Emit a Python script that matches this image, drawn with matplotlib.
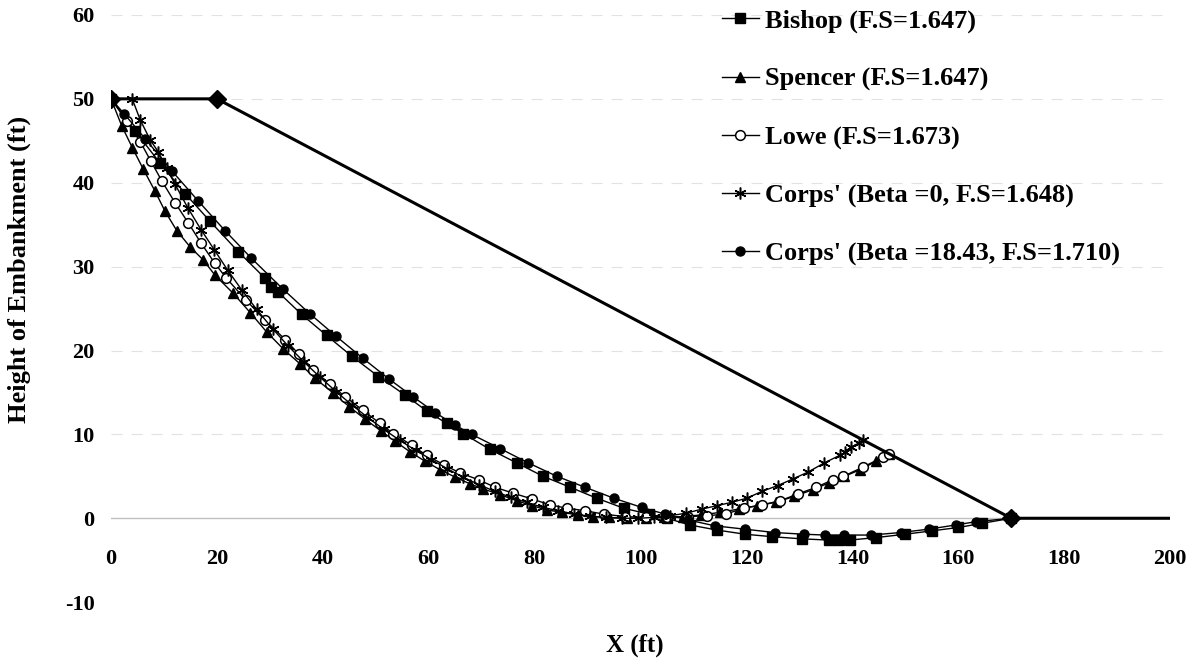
import matplotlib
matplotlib.use("Agg")
import matplotlib.pyplot as plt
import matplotlib.ticker as ticker

# embankment profile
embank_x = [0, 20, 170, 200]
embank_y = [50, 50, 0, 0]

# Bishop (F.S=1.647)
bishop_x = [0, 4.5, 9.3, 14.0, 18.7, 24.0, 29.1, 30.3, 31.5, 36.0, 40.7, 45.5, 50.5, 55.5, 59.6,
            63.4, 66.5, 71.6, 76.6, 81.6, 86.7, 91.7, 96.8, 101.5, 105.0, 109.3, 114.4, 119.7,
            124.9, 130.4, 135.5, 137.5, 139.5, 144.5, 150.0, 155.0, 160.0, 164.5, 170]
bishop_y = [50, 46.2, 42.3, 38.7, 35.4, 31.8, 28.6, 27.6, 27.0, 24.3, 21.8, 19.3, 16.9, 14.7, 12.8,
            11.3, 10.1, 8.2, 6.6, 5.0, 3.7, 2.4, 1.2, 0.5, 0.0, -0.8, -1.4, -1.9,
            -2.2, -2.45, -2.6, -2.6, -2.6, -2.3, -1.9, -1.5, -1.1, -0.6, 0]

# Spencer (F.S=1.647)
spencer_x = [0, 2.0, 4.0, 6.1, 8.3, 10.2, 12.4, 15.0, 17.4, 19.6, 23.1, 26.3, 29.4, 32.5, 35.7,
             38.5, 42.0, 45.0, 48.0, 51.0, 53.6, 56.5, 59.3, 62.1, 65.0, 67.8, 70.3, 73.5, 76.6,
             79.5, 82.3, 85.1, 88.2, 91.0, 94.0, 97.5, 101.0, 104.5, 108.0, 111.5, 115.0, 118.5,
             122.0, 125.5, 129.0, 132.5, 135.5, 138.5, 141.5, 144.5, 147.0]
spencer_y = [50, 46.8, 44.2, 41.6, 39.0, 36.6, 34.3, 32.3, 30.8, 29.0, 26.8, 24.5, 22.2, 20.2, 18.4,
             16.7, 14.9, 13.3, 11.8, 10.4, 9.2, 7.9, 6.8, 5.8, 4.9, 4.1, 3.5, 2.8, 2.1,
             1.5, 1.0, 0.7, 0.4, 0.2, 0.1, 0.0, 0.0, 0.1, 0.2, 0.4, 0.7, 1.1,
             1.5, 1.9, 2.6, 3.4, 4.2, 5.0, 5.8, 6.8, 7.67]

# Lowe (F.S=1.673)
lowe_x = [0, 3.0, 5.5, 7.5, 9.6, 12.1, 14.6, 17.0, 19.6, 21.8, 25.5, 29.1, 32.9, 35.4, 38.2,
          41.3, 44.2, 47.5, 50.8, 53.3, 56.8, 59.6, 62.8, 65.9, 69.4, 72.5, 75.9, 79.5, 82.9,
          86.1, 89.5, 93.0, 97.0, 101.0, 105.0, 109.0, 112.5, 116.1, 119.5, 123.0, 126.4, 129.7,
          133.2, 136.3, 138.3, 142.0, 145.8, 147.0]
lowe_y = [50, 47.3, 44.9, 42.6, 40.2, 37.6, 35.2, 32.8, 30.4, 28.6, 26.0, 23.6, 21.3, 19.6, 17.7,
          16.0, 14.5, 12.9, 11.3, 10.1, 8.7, 7.5, 6.4, 5.4, 4.6, 3.7, 3.0, 2.3, 1.6,
          1.2, 0.9, 0.5, 0.2, 0.1, 0.1, 0.2, 0.3, 0.5, 1.2, 1.6, 2.1, 2.9,
          3.7, 4.6, 5.0, 6.1, 7.3, 7.67]

# Corps' (Beta =0, F.S=1.648)
corps0_x = [4.0, 5.5, 7.4, 8.9, 10.5, 12.1, 14.5, 17.0, 19.5, 22.0, 24.7, 27.5, 30.5, 33.5, 36.5,
            39.5, 42.5, 45.5, 48.5, 51.5, 54.5, 57.5, 60.5, 63.5, 66.5, 69.5, 72.5, 75.5, 78.5,
            81.5, 84.5, 87.5, 90.5, 93.5, 96.5, 99.5, 102.5, 105.5, 108.6, 111.6, 114.4, 117.2,
            120.1, 122.9, 125.9, 128.8, 131.6, 134.7, 137.6, 138.7, 139.8, 141.3, 142.0]
corps0_y = [50, 47.5, 45.1, 43.7, 41.7, 39.8, 37.0, 34.4, 32.0, 29.6, 27.2, 24.9, 22.6, 20.5, 18.6,
            16.8, 15.1, 13.5, 12.0, 10.6, 9.3, 8.1, 7.0, 5.9, 4.9, 4.0, 3.2, 2.5, 1.9,
            1.3, 0.9, 0.5, 0.25, 0.1, 0.0, 0.0, 0.1, 0.3, 0.6, 1.1, 1.5, 1.9,
            2.4, 3.2, 3.9, 4.7, 5.5, 6.6, 7.5, 7.9, 8.5, 9.0, 9.33]

# Corps' (Beta =18.43, F.S=1.710)
corps18_x = [0, 2.5, 6.5, 11.5, 16.5, 21.5, 26.5, 32.5, 37.5, 42.5, 47.5, 52.5, 57.0, 61.2, 65.0,
             68.1, 73.5, 78.8, 84.2, 89.5, 94.9, 100.2, 104.6, 109.0, 114.0, 119.7, 125.3, 130.8,
             134.8, 138.5, 143.6, 149.1, 154.4, 159.5, 163.4, 170]
corps18_y = [50, 48.2, 45.2, 41.4, 37.8, 34.3, 31.0, 27.3, 24.4, 21.7, 19.1, 16.6, 14.5, 12.6, 11.1,
             10.0, 8.3, 6.6, 5.0, 3.7, 2.4, 1.3, 0.5, -0.2, -0.9, -1.3, -1.7, -1.9,
             -2.0, -2.0, -2.0, -1.7, -1.3, -0.8, -0.4, 0]

x_ticks = [0, 20, 40, 60, 80, 100, 120, 140, 160, 180, 200]
y_ticks = [-10, 0, 10, 20, 30, 40, 50, 60]

plt.rcParams['font.family'] = ['Liberation Serif', 'DejaVu Serif']
plt.rcParams['font.weight'] = 'bold'
plt.rcParams['axes.unicode_minus'] = False

fig = plt.figure(figsize=(11.89, 6.65), dpi=100)
ax = fig.add_axes([0.0934, 0.0945, 0.8907, 0.883])

# faded excel gridlines
for yv in y_ticks:
    if yv in (-10, 0):
        continue
    ax.axhline(yv, color='#e2e2e2', lw=0.8, ls=(0, (10, 8)), zorder=0)
ax.axhline(0, color='#c0c0c0', lw=1.0, zorder=0)

ax.plot(embank_x, embank_y, color='black', lw=2.2, marker='D', markersize=9,
        markevery=[0, 1, 2], zorder=6)

ln = dict(color='black', lw=1.0)
ax.plot(bishop_x, bishop_y, marker='s', markersize=6.5, mfc='black', mec='black',
        label='Bishop (F.S=1.647)', **ln)
ax.plot(spencer_x, spencer_y, marker='^', markersize=6.5, mfc='black', mec='black',
        label='Spencer (F.S=1.647)', **ln)
ax.plot(lowe_x, lowe_y, marker='o', markersize=7, mfc='white', mec='black', mew=1.1,
        label='Lowe (F.S=1.673)', **ln)
ax.plot(corps0_x, corps0_y, marker=(6, 2, 0), markersize=8.5, mec='black', mew=1.1,
        label="Corps' (Beta =0, F.S=1.648)", **ln)
ax.plot(corps18_x, corps18_y, marker='o', markersize=6.5, mfc='black', mec='black',
        label="Corps' (Beta =18.43, F.S=1.710)", **ln)

ax.set_xlim(0, 200)
ax.set_ylim(-10, 60)
ax.xaxis.set_major_locator(ticker.FixedLocator(x_ticks))
ax.yaxis.set_major_locator(ticker.FixedLocator(y_ticks))
for s in ['top', 'right', 'left', 'bottom']:
    ax.spines[s].set_visible(False)
ax.tick_params(axis='both', length=0, labelsize=16)
ax.tick_params(axis='y', pad=12)
ax.tick_params(axis='x', pad=22)
ax.xaxis.set_ticks_position('bottom')
ax.spines['bottom'].set_position(('data', 0))

fig.text(0.016, 0.595, 'Height of Embankment (ft)', fontsize=19, fontweight='bold',
         rotation=90, ha='center', va='center')
fig.text(0.534, 0.03, 'X (ft)', fontsize=18, fontweight='bold', ha='center', va='center')

ax.legend(loc='upper left', bbox_to_anchor=(0.598, 1.002), bbox_transform=fig.transFigure,
          frameon=False, fontsize=19, numpoints=1, handlelength=1.4, handletextpad=0.25,
          labelspacing=1.3, borderaxespad=0)

fig.savefig('out.png', dpi=100)
